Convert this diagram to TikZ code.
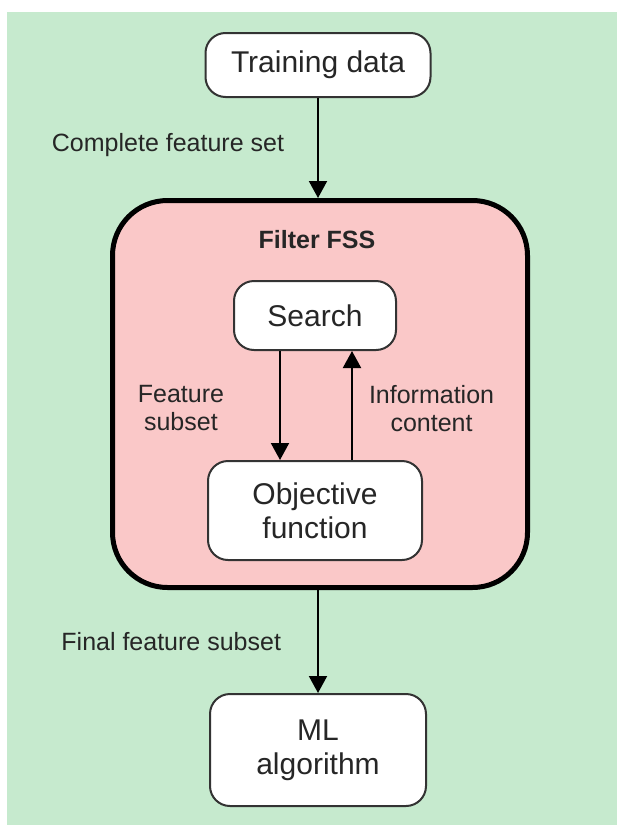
\documentclass[tikz,border=0pt]{standalone}
\usepackage{fontspec}
\setmainfont{Liberation Sans}
\usetikzlibrary{arrows.meta,positioning}
\definecolor{bggreen}{RGB}{198,234,206}
\definecolor{fsspink}{RGB}{250,200,200}
\begin{document}
\begin{tikzpicture}[x=1pt,y=-1pt,
    box/.style={draw=black!80,line width=2pt,fill=white,rounded corners=20pt,align=center,
        font=\fontsize{30}{34}\selectfont,text=black!85,inner sep=0pt},
    lbl/.style={font=\fontsize{25}{28}\selectfont,text=black!85,align=center,inner sep=0pt},
    arr/.style={line width=2pt,-{Triangle[width=18pt,length=17pt]}}
  ]
  \useasboundingbox (0,0) rectangle (617,825);
  \fill[bggreen] (7,12) rectangle (617,825);
  % outer filter block
  \node[draw=black,line width=5pt,fill=fsspink,rounded corners=55pt,
        minimum width=415pt,minimum height=387pt] (fss) at (320,394) {};
  \node[lbl,font=\bfseries\fontsize{25}{28}\selectfont] (title) at (317,240) {Filter FSS};
  % boxes
  \node[box,minimum width=225pt,minimum height=64pt] (train) at (318,65) {Training data};
  \node[box,minimum width=162pt,minimum height=69pt] (search) at (315,315.5) {Search};
  \node[box,minimum width=214pt,minimum height=99pt] (obj) at (315,510.5) {Objective\\function};
  \node[box,minimum width=216pt,minimum height=112pt] (ml) at (318,750) {ML\\algorithm};
  % connectors
  \draw[arr] (train.south) -- (train.south |- fss.north)
      node[lbl,midway,left=33pt,yshift=3pt] (cfs) {Complete feature set};
  \draw[arr] (ml.north |- fss.south) -- (ml.north)
      node[lbl,midway,left=36pt] (ffs) {Final feature subset};
  \draw[arr] ([xshift=-35pt]search.south) -- ([xshift=-35pt]search.south |- obj.north)
      node[lbl,midway,left=55pt,yshift=-3pt] (fsub) {Feature\\subset};
  \draw[arr] ([xshift=37pt]search.south |- obj.north) -- ([xshift=37pt]search.south)
      node[lbl,midway,right=16pt,yshift=-3pt] (info) {Information\\content};
\end{tikzpicture}
\end{document}
